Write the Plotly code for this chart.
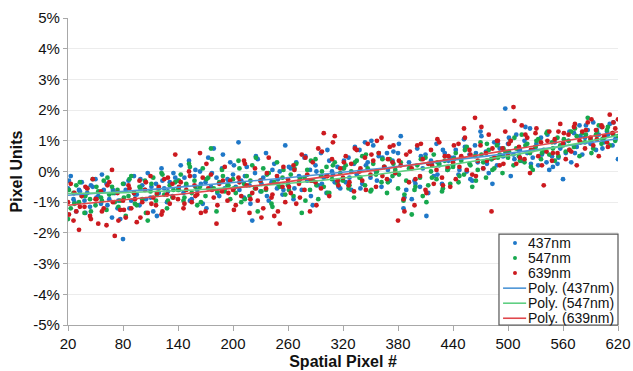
import numpy as np
import plotly.graph_objects as go

# Spatial pixel positions: main sampling every 3 px plus an interleaved set every 6 px
pixel_main = list(range(20, 621, 3))
pixel_extra = list(range(21, 620, 6))

# Measured offsets in percent of a pixel, per wavelength (main sampling)
b437 = [
    -0.55, -0.15, -0.9, -1.3, -0.6, -0.35, -0.95, -0.7, -1.15, -0.5, -0.25, -0.8, -1.05, -0.6, -0.4, -0.9, -1.5, -0.7, -1.2, -1.55,
    -2.2, -0.6, -0.3, -0.95, -0.15, -0.75, -1.1, -0.45, -0.6, -0.05, -0.85, -1.3, -0.4, -0.7, 0.1, -0.55, -1.0, -0.35, -0.8, -0.2,
    -0.3, 0.2, -0.7, -0.45, 0.35, -0.9, -0.15, -0.6, 0.0, -1.05, -0.35, 0.45, -0.5, 0.75, -0.2, -0.8, 0.1, -0.55, -0.25, 0.3,
    -0.1, -0.5, 0.95, -0.3, -0.85, 0.15, -0.45, -1.6, -0.05, 0.4, -0.65, -0.2, 0.6, -0.95, -0.35, 0.25, -0.55, 0.0, -0.75, 0.85,
    -0.4, 0.1, -0.9, 0.3, -0.15, -0.6, 0.45, -0.3, 0.05, -1.1, 0.2, -0.45, 0.6, -0.2, -0.7, 0.35, 0.0, -0.35, 0.15, -0.55,
    0.1, -0.35, 0.45, -0.6, 0.25, -0.1, 0.7, -0.4, 0.95, 0.3, -0.2, 0.85, 0.0, 0.5, -0.5, 0.15, 0.6, -0.3, 0.35, -0.05,
    0.6, 1.15, -1.2, -0.6, 0.3, -0.9, -0.3, 0.75, -0.5, 0.1, 0.55, -0.7, 0.35, -0.15, 0.9, 0.2, -0.4, 0.6, 0.05, 0.45,
    0.2, 0.7, -0.1, 0.45, 1.05, 0.0, 0.55, -0.3, 0.85, 0.3, 1.3, 0.1, 0.65, -0.05, 0.4, 0.95, 0.2, 0.75, 0.5, 2.05,
    0.9, -0.15, 0.55, 1.2, 0.7, 0.35, 1.0, 0.6, 1.4, 0.45, 0.8, 0.2, 1.1, 0.65, 0.3, 0.05, 0.5, 0.95, 0.25, 0.75,
    -0.25, 0.6, 1.0, 0.3, 1.25, 0.8, 1.5, 0.55, 1.1, 1.35, 0.9, 1.6, 0.7, 1.2, 1.45, 0.95, 1.3, 1.55, 0.85, 1.05,
    0.4,
]
g547 = [
    -1.55, -1.2, -0.7, -0.45, -1.0, -0.8, -1.35, -0.55, -0.9, -0.25, -1.1, -0.65, -0.85, -0.3, -1.25, -0.75, -0.5, -1.0, -0.6, -0.95,
    -0.4, -1.45, -0.8, -0.15, -0.7, -1.1, -0.5, -0.9, -0.3, -1.6, -0.65, -0.2, -0.95, -0.55, -0.05, -0.75, -1.2, -0.45, -0.85, -0.35,
    -0.6, -0.1, -0.95, -0.4, 0.25, -0.7, -0.3, -1.1, -0.5, 0.1, -0.8, -0.2, 0.75, -0.55, -1.3, -0.35, 0.05, -0.65, -0.45, -0.9,
    -0.25, -0.7, 0.35, -1.0, -0.4, -0.15, -0.8, 0.2, -0.55, -1.3, -0.3, 0.1, -0.6, -0.05, -1.05, -0.35, 0.3, -0.5, -0.2, -0.75,
    -0.45, -0.1, -0.8, 0.25, -0.35, -1.35, -0.2, 0.05, -0.6, -0.3, 0.4, -0.9, -0.15, -0.5, 0.15, -0.7, -0.25, 0.3, -0.4, -0.05,
    -0.3, 0.2, -0.55, 0.0, -0.85, 0.35, -0.2, 0.5, -0.45, 0.1, -0.65, 0.25, -0.1, 0.6, -0.35, 0.15, -0.7, 0.4, -0.15, 0.05,
    -0.55, 0.3, -0.95, -0.3, 0.1, -1.4, -0.6, 0.2, -0.2, -0.8, 0.45, -0.45, 0.0, 0.55, -0.25, 0.25, -0.65, 0.35, 0.05, -0.4,
    0.15, 0.6, -0.35, 0.35, -0.1, 0.8, 0.25, -0.5, 0.5, 0.05, 0.95, 0.3, -0.2, 0.7, 0.4, 0.1, 0.85, 0.55, -0.05, 0.65,
    0.45, 1.0, 0.2, 0.75, 0.5, 1.2, 0.3, 0.9, 0.6, 0.05, 0.8, 1.05, 0.4, 0.7, 1.25, 0.55, 0.95, 0.35, 1.1, 0.85,
    0.85, 0.65, 1.0, 1.3, 0.8, 1.15, 0.5, 1.25, 0.95, 1.75, 1.05, 0.75, 1.2, 1.5, 0.9, 1.1, 1.35, 0.85, 1.25, 1.0,
    1.15,
]
r639 = [
    -1.0, -0.4, -1.6, -1.3, -1.9, -0.8, -1.15, -0.55, -1.45, -0.25, -0.9, -1.7, -0.65, -1.2, -1.75, -0.35, 0.05, -2.1, -0.7, -1.25,
    -0.95, -1.5, -0.45, -1.2, -0.7, -1.65, -0.3, -1.0, -0.6, -1.35, -0.15, -0.85, -1.1, -0.5, -1.4, -0.25, -0.75, -1.05, -0.4, 0.55,
    -0.9, -0.35, -1.2, -0.6, 0.0, -1.0, -0.45, -0.75, 0.6, -0.2, -1.3, -0.55, -0.1, -0.85, -1.7, -0.4, -0.65, 0.15, -0.95, -0.3,
    -0.6, -1.1, -0.2, -0.8, 0.35, -0.45, -1.35, -0.7, 0.1, -0.95, -0.3, -1.2, -0.55, 0.45, -0.85, -1.45, -0.15, -1.7, -0.5, -1.0,
    -0.25, -0.7, 0.2, -1.05, -0.4, 0.55, -0.6, -0.1, -1.3, 0.3, -0.35, 0.75, -0.55, 1.25, -0.15, -0.8, 0.4, 1.15, -0.3, 0.1,
    -0.2, 0.5, -0.45, 0.25, -0.65, 0.7, 0.0, -0.3, 0.45, 0.9, -0.1, 0.35, -0.5, 0.6, 1.1, 0.15, -0.25, 0.8, 0.3, -0.05,
    -1.6, 0.2, -0.9, 0.55, -0.35, 0.1, -1.1, 0.85, -0.15, 0.4, -0.6, 0.25, 0.7, -0.4, 0.05, 0.95, -0.2, 0.5, 0.15, -0.5,
    0.3, -0.25, 0.9, 0.5, 1.4, 0.05, 0.7, -0.1, 1.75, 0.35, 0.85, 0.1, 0.6, 1.2, -1.3, 0.45, 1.0, 0.2, 0.75, 1.3,
    0.55, 1.0, 2.1, 0.25, 0.8, 1.5, 0.4, 1.1, -0.05, 0.7, 1.25, 0.5, 0.95, -0.45, 0.65, 1.3, 0.35, 1.05, 0.6, 1.55,
    0.9, 0.4, 1.2, 0.65, 1.45, 0.2, 1.0, 1.3, 0.75, 1.6, 1.1, 0.85, 1.35, 0.5, 1.5, 1.15, 0.95, 1.85, 1.25, 1.4,
    1.7,
]

# Interleaved sampling (every 6 px starting at pixel 21)
b437_extra = [
    -0.3, -1.0, -0.65, -1.35, -0.45, -0.85, -0.1, -1.1, -0.6, -0.95,
    -0.4, -1.2, -0.75, -0.25, -0.9, -0.5, -1.45, -0.3, -0.65, -0.05,
    -0.6, -0.2, -0.95, 0.05, -0.4, -1.2, -0.05, -0.7, 0.55, -0.3,
    0.2, -0.6, -0.15, -1.05, 0.5, -0.4, -0.8, 0.05, -0.25, -0.6,
    0.15, -0.55, -0.2, 0.5, -0.8, 0.0, -0.4, 0.7, -0.1, -0.5,
    0.35, -0.2, 0.8, -0.55, 0.2, 1.0, -0.3, 0.45, 0.05, 0.65,
    0.9, -0.85, 0.1, -0.4, 0.5, -1.45, 0.25, -0.1, 0.7, 0.35,
    0.45, 0.05, 0.8, -0.25, 0.6, 1.15, 0.25, -0.4, 0.9, 0.5,
    1.1, 0.4, 0.7, 1.45, 0.25, 0.9, 0.55, 1.2, 0.15, 0.45,
    0.9, 1.3, 0.6, 1.15, 1.5, 0.95, 1.35, 0.75, 1.2, 1.6,
]
g547_extra = [
    -0.6, -1.05, -0.35, -0.8, -1.3, -0.5, -0.95, -0.2, -0.7, -1.15,
    -0.85, -0.25, -1.05, -0.55, -1.35, -0.4, -0.75, -0.1, -0.95, -0.6,
    -0.3, -0.85, 0.15, -0.5, -1.0, -0.25, 0.4, -0.65, -0.15, -0.45,
    -0.55, 0.1, -0.9, -0.3, 0.45, -0.65, -0.1, -1.15, -0.4, 0.05,
    -0.6, 0.1, -0.25, -0.95, 0.35, -0.45, 0.0, -0.7, 0.2, -0.3,
    0.1, -0.45, 0.3, -0.2, 0.55, -0.6, 0.0, 0.4, -0.35, 0.25,
    -0.1, -0.75, 0.15, -0.5, 0.4, -1.0, -0.2, 0.3, -0.55, 0.1,
    0.4, -0.15, 0.7, 0.2, -0.3, 0.55, 0.9, 0.05, 0.45, 0.75,
    0.65, 1.1, 0.35, 0.85, 0.15, 1.0, 0.6, 1.3, 0.75, 0.5,
    1.05, 0.7, 1.4, 0.95, 1.2, 0.6, 1.3, 1.05, 1.45, 1.2,
]
r639_extra = [
    -1.4, -0.7, -1.15, -0.5, -1.55, -0.9, -1.3, -0.45, -1.0, -1.6,
    -1.25, -0.55, -0.9, -1.5, -0.35, -1.05, -0.7, -1.3, -0.2, -0.85,
    -0.5, -1.05, -0.15, -0.8, -1.35, 0.25, -0.6, -1.1, -0.3, -0.7,
    -1.25, -0.35, 0.25, -0.9, -0.55, -1.5, -0.05, -0.75, -1.3, 0.15,
    -0.5, 0.05, -0.85, 0.45, -0.3, -1.1, 0.65, -0.15, 0.95, -0.45,
    0.3, -0.35, 0.75, 0.1, -0.6, 0.55, 1.0, -0.15, 0.4, 0.85,
    0.35, -1.3, 0.65, -0.25, 0.9, -0.7, 0.2, 1.05, -0.45, 0.5,
    0.85, 0.15, 1.1, 0.55, -0.15, 1.45, 0.35, 0.75, 1.0, 0.25,
    0.9, 1.65, 0.45, 1.2, 0.7, 1.4, 0.2, 1.0, 0.6, 1.3,
    1.25, 0.7, 1.55, 0.95, 1.35, 1.7, 1.05, 1.45, 0.8, 1.6,
]

series_names = ["437nm", "547nm", "639nm"]
dot_colors = ["#1f78c8", "#17a84e", "#cc1a1f"]
fit_colors = ["#4d95d6", "#5fcf82", "#e0474c"]

y_ticks = list(range(-5, 6))
y_labels = [f"{v}%" for v in y_ticks]
x_ticks = list(range(20, 621, 60))

FONT = "Liberation Sans, Arial, sans-serif"

fig = go.Figure()

px_all = pixel_main + pixel_extra
data = [b437 + b437_extra, g547 + g547_extra, r639 + r639_extra]
for name, vals, col in zip(series_names, data, dot_colors):
    fig.add_trace(go.Scatter(
        x=px_all, y=vals, mode="markers", name=name,
        marker=dict(size=4.8, color=col, line=dict(width=0)),
        showlegend=False,
    ))

# Second-order polynomial trendlines
xs = np.array(px_all, dtype=float)
xfit = np.array(pixel_main, dtype=float)
for name, vals, col in zip(series_names, data, fit_colors):
    coef = np.polyfit(xs, np.array(vals), 2)
    fig.add_trace(go.Scatter(
        x=xfit, y=np.polyval(coef, xfit), mode="lines", name=f"Poly. ({name})",
        line=dict(color=col, width=1.6), showlegend=False,
    ))

# Legend box drawn in paper coordinates
shapes = [dict(type="rect", xref="paper", yref="paper", x0=0.7836, x1=1.0, y0=0.0, y1=0.296,
               line=dict(color="#555555", width=1.2), fillcolor="white", layer="above")]
annotations = []
row_y = [0.267, 0.218, 0.169, 0.120, 0.071, 0.022]
mark_x = 0.8127
text_x = 0.8345
for i, (name, col) in enumerate(zip(series_names, dot_colors)):
    shapes.append(dict(type="circle", xref="paper", yref="paper",
                       xsizemode="pixel", ysizemode="pixel",
                       xanchor=mark_x, yanchor=row_y[i], x0=-2, x1=2, y0=-2, y1=2,
                       fillcolor=col, line=dict(width=0), layer="above"))
    annotations.append(dict(xref="paper", yref="paper", x=text_x, y=row_y[i], text=name,
                            showarrow=False, xanchor="left", yanchor="middle",
                            height=14.5, borderpad=0,
                            font=dict(family=FONT, size=14, color="#111111")))
for j, (name, col) in enumerate(zip(series_names, fit_colors)):
    yy = row_y[3 + j]
    shapes.append(dict(type="line", xref="paper", yref="paper", x0=0.791, x1=0.833, y0=yy, y1=yy,
                       line=dict(color=col, width=1.6), layer="above"))
    annotations.append(dict(xref="paper", yref="paper", x=text_x, y=yy, text=f"Poly. ({name})",
                            showarrow=False, xanchor="left", yanchor="middle",
                            height=14.5, borderpad=0,
                            font=dict(family=FONT, size=14, color="#111111")))

fig.update_layout(
    width=633, height=371,
    margin=dict(l=68, r=15, t=18, b=46),
    paper_bgcolor="white", plot_bgcolor="white",
    font=dict(family=FONT, size=15, color="#111111"),
    shapes=shapes, annotations=annotations,
    xaxis=dict(
        range=[20, 620], tickvals=x_ticks, showgrid=False, zeroline=False,
        showline=True, linecolor="#a8a8a8", linewidth=1.2, automargin=False,
        ticks="outside", ticklen=5, tickcolor="#a8a8a8",
        tickfont=dict(family=FONT, size=15, color="#111111"),
        title=dict(text="Spatial Pixel #", standoff=4,
                   font=dict(family=FONT, size=16, color="#111111", weight="bold")),
    ),
    yaxis=dict(
        range=[-5, 5], tickvals=y_ticks, ticktext=y_labels,
        showgrid=True, gridcolor="#ececec", gridwidth=1, zeroline=False,
        showline=True, linecolor="#a8a8a8", linewidth=1.2, automargin=False,
        ticks="outside", ticklen=4, tickcolor="#a8a8a8",
        tickfont=dict(family=FONT, size=15, color="#111111"),
        title=dict(text="Pixel Units", standoff=6,
                   font=dict(family=FONT, size=16, color="#111111", weight="bold")),
    ),
)

fig.write_html("out.html")
